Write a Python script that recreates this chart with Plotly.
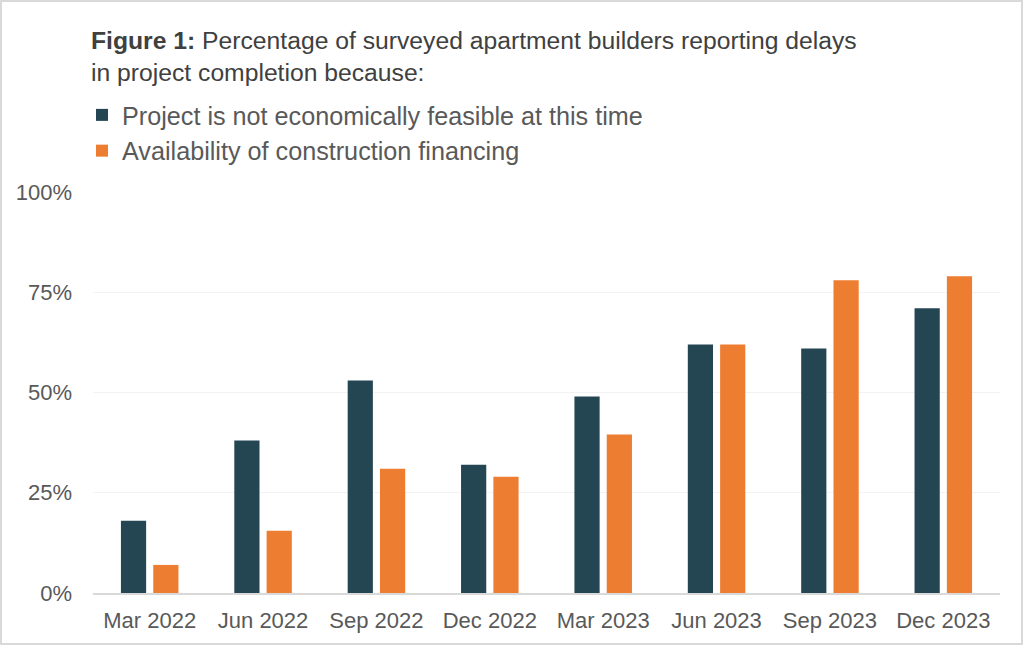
import plotly.graph_objects as go

categories = ["Mar 2022", "Jun 2022", "Sep 2022", "Dec 2022", "Mar 2023", "Jun 2023", "Sep 2023", "Dec 2023"]
not_feasible = [18, 38, 53, 32, 49, 62, 61, 71]
financing = [7, 15.5, 31, 29, 39.5, 62, 78, 79]
series_names = ["Project is not economically feasible at this time", "Availability of construction financing"]
tick_vals = [0, 25, 50, 75, 100]
tick_text = ["0%", "25%", "50%", "75%", "100%"]

TEAL = "#244653"
ORANGE = "#ED7D31"
GRAY = "#595959"
FONT = "Liberation Sans, Arial, sans-serif"

fig = go.Figure()
fig.add_trace(go.Bar(x=categories, y=not_feasible, name=series_names[0],
                     marker=dict(color=TEAL, line=dict(width=0)), legendgroup="a"))
fig.add_trace(go.Bar(x=categories, y=financing, name=series_names[1],
                     marker=dict(color=ORANGE, line=dict(width=0)), legendgroup="b"))

W, H = 1024, 646
L, R, T, B = 93, 24, 192, 53
pw, ph = W - L - R, H - T - B

def px_to_paper_x(x):
    return (x - L) / pw

def px_to_paper_y(y):
    return (H - B - y) / ph

fig.update_layout(
    width=W, height=H,
    margin=dict(l=L, r=R, t=T, b=B, pad=0),
    paper_bgcolor="white", plot_bgcolor="white",
    font=dict(family=FONT, color=GRAY, size=22),
    barmode="group", bargap=0.43, bargroupgap=0.22,
    title=dict(
        text="<b>Figure 1:</b> Percentage of surveyed apartment builders reporting delays<br>in project completion because:",
        x=91 / W, xanchor="left", xref="container",
        y=1 - 49 / H, yanchor="top", yref="container",
        font=dict(family=FONT, size=24.7, color="#404040"),
    ),
    legend=dict(
        x=px_to_paper_x(82), xanchor="left",
        y=px_to_paper_y(92), yanchor="top",
        font=dict(family=FONT, size=25.2, color=GRAY),
        traceorder="grouped", tracegroupgap=0,
        bgcolor="rgba(0,0,0,0)",
    ),
    showlegend=True,
    xaxis=dict(
        showgrid=False, showline=True, linecolor="#D9D9D9", linewidth=1.5,
        ticks="", tickfont=dict(size=22, color=GRAY), ticklabelstandoff=7,
    ),
    yaxis=dict(
        range=[0, 100], tickvals=tick_vals, ticktext=tick_text,
        showgrid=True, gridcolor="#F2F2F2", gridwidth=1,
        zeroline=False, showline=False, ticks="",
        tickfont=dict(size=22, color=GRAY), ticklabelstandoff=20,
    ),
    shapes=[dict(
        type="rect", xref="paper", yref="paper",
        x0=px_to_paper_x(1), x1=px_to_paper_x(1022),
        y0=px_to_paper_y(644), y1=px_to_paper_y(1),
        line=dict(color="#D9D9D9", width=2), fillcolor="rgba(0,0,0,0)", layer="below",
    )],
)

fig.write_html("out.html", config={"displayModeBar": False},
               post_script="document.body.style.margin='0';document.body.style.overflow='hidden';")
